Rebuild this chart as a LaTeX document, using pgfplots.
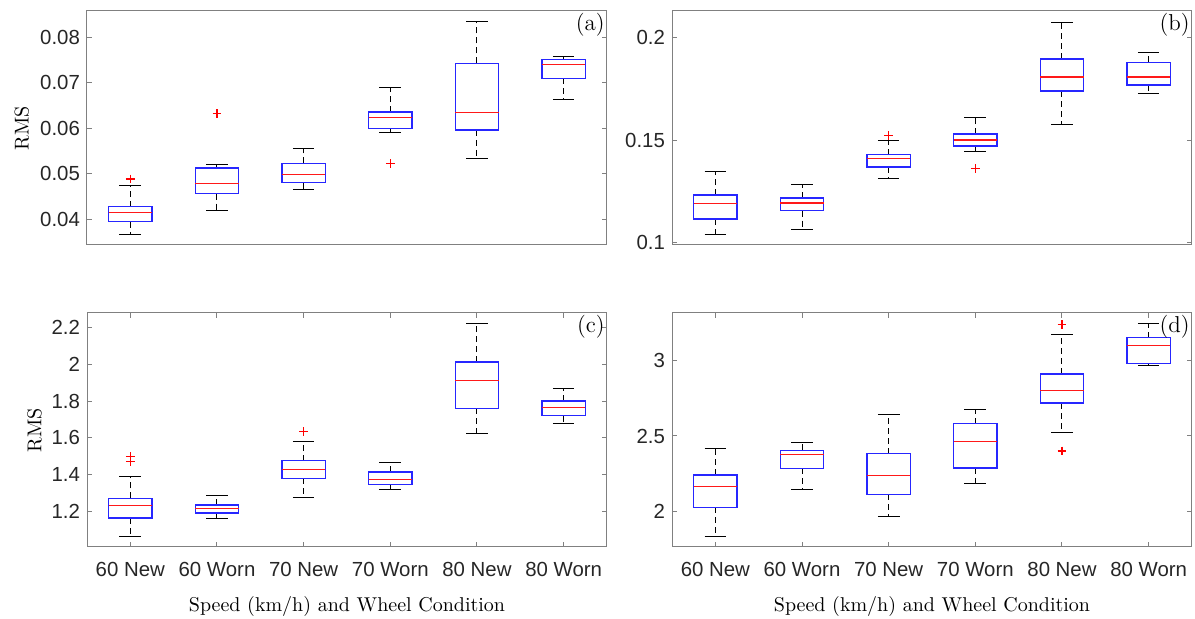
\documentclass[border=0pt]{standalone}
\usepackage{fontspec}
\usepackage{pgfplots}
\pgfplotsset{compat=1.18}
\usepgfplotslibrary{statistics}
\newfontfamily\ticksf{Liberation Sans}

\pgfplotsset{
  boxplot/draw/lower whisker/.code={%
    \draw[color=black, line width=0.5pt, dash pattern=on 3pt off 2pt]
      (boxplot box cs:\pgfplotsboxplotvalue{lower quartile},0.5) --
      (boxplot box cs:\pgfplotsboxplotvalue{lower whisker},0.5);
    \draw[color=black, line width=0.5pt]
      (boxplot whisker cs:\pgfplotsboxplotvalue{lower whisker},0) --
      (boxplot whisker cs:\pgfplotsboxplotvalue{lower whisker},1);
  },
  boxplot/draw/upper whisker/.code={%
    \draw[color=black, line width=0.5pt, dash pattern=on 3pt off 2pt]
      (boxplot box cs:\pgfplotsboxplotvalue{upper quartile},0.5) --
      (boxplot box cs:\pgfplotsboxplotvalue{upper whisker},0.5);
    \draw[color=black, line width=0.5pt]
      (boxplot whisker cs:\pgfplotsboxplotvalue{upper whisker},0) --
      (boxplot whisker cs:\pgfplotsboxplotvalue{upper whisker},1);
  },
  boxplot/draw/median/.code={%
    \draw[color=red!90!white, line width=0.7pt]
      (boxplot box cs:\pgfplotsboxplotvalue{median},0) --
      (boxplot box cs:\pgfplotsboxplotvalue{median},1);
  },
  boxplot/draw/box/.code={%
    \draw[color=blue!85!white, line width=0.7pt]
      (boxplot box cs:\pgfplotsboxplotvalue{lower quartile},0) rectangle
      (boxplot box cs:\pgfplotsboxplotvalue{upper quartile},1);
  },
  mybox/.style={
    color=black,
    boxplot/draw direction=y,
    boxplot/box extend=0.5,
    boxplot/whisker extend=0.25,
  },
  outl/.style={only marks, mark=+, color=red, mark size=2.2pt, line width=0.6pt},
  panel/.style={
    width=260pt, height=117pt, scale only axis,
    anchor=south west,
    xmin=0.5, xmax=6.5,
    scaled y ticks=false,
    axis line style={black!50, line width=0.5pt},
    every tick/.style={black!50, line width=0.5pt},
    tick align=inside,
    major tick length=2.5pt,
    xtick pos=both, ytick pos=both,
    tick label style={font=\ticksf\fontsize{10.2}{12}\selectfont, text=black!85},
    /pgf/number format/assume math mode=true,
    xticklabel style={anchor=base, yshift=-14.8pt},
    label style={font=\fontsize{11.5}{13}\selectfont},
    every axis x label/.style={at={(axis description cs:0.5,0)}, anchor=base, yshift=-32.35pt},
  },
  catx/.style={
    xtick={1,2,3,4,5,6},
    xticklabels={60 New,60 Worn,70 New,70 Worn,80 New,80 Worn},
    xlabel={Speed (km/h) and Wheel Condition},
  },
  nox/.style={xtick=\empty},
}
\newcommand{\plab}[1]{\node[anchor=north east, font=\fontsize{11.5}{13}\selectfont, inner sep=1pt] at (rel axis cs:1,1) {#1};}

\begin{document}
\begin{tikzpicture}
\path[use as bounding box] (0,0) rectangle (597.5pt,309.5pt);

% (a)
\begin{axis}[panel, nox, at={(43.5pt,187pt)},
  ymin=0.0344, ymax=0.0858,
  ytick={0.04,0.05,0.06,0.07,0.08},
  yticklabels={0.04,0.05,0.06,0.07,0.08},
  ylabel={RMS},
  every axis y label/.style={at={(axis description cs:0,0.5)}, xshift=-29.15pt, rotate=90, anchor=base},
]
\addplot[mybox, boxplot prepared={draw position=1, lower whisker=0.0367, lower quartile=0.0395, median=0.0415, upper quartile=0.0428, upper whisker=0.0474}] coordinates {};
\addplot[mybox, boxplot prepared={draw position=2, lower whisker=0.0420, lower quartile=0.0457, median=0.0479, upper quartile=0.0513, upper whisker=0.0520}] coordinates {};
\addplot[mybox, boxplot prepared={draw position=3, lower whisker=0.0465, lower quartile=0.0481, median=0.0499, upper quartile=0.0523, upper whisker=0.0556}] coordinates {};
\addplot[mybox, boxplot prepared={draw position=4, lower whisker=0.0591, lower quartile=0.0600, median=0.0624, upper quartile=0.0636, upper whisker=0.0690}] coordinates {};
\addplot[mybox, boxplot prepared={draw position=5, lower whisker=0.0535, lower quartile=0.0597, median=0.0635, upper quartile=0.0743, upper whisker=0.0834}] coordinates {};
\addplot[mybox, boxplot prepared={draw position=6, lower whisker=0.0663, lower quartile=0.0710, median=0.0740, upper quartile=0.0751, upper whisker=0.0758}] coordinates {};
\addplot[outl] coordinates {(1,0.0489) (2,0.0633) (4,0.0523)};
\plab{(a)}
\end{axis}

% (b)
\begin{axis}[panel, nox, at={(336pt,187pt)},
  ymin=0.099, ymax=0.2131,
  ytick={0.1,0.15,0.2},
  yticklabels={0.1,0.15,0.2},
]
\addplot[mybox, boxplot prepared={draw position=1, lower whisker=0.1043, lower quartile=0.1116, median=0.1191, upper quartile=0.1233, upper whisker=0.1347}] coordinates {};
\addplot[mybox, boxplot prepared={draw position=2, lower whisker=0.1064, lower quartile=0.1158, median=0.1195, upper quartile=0.1220, upper whisker=0.1283}] coordinates {};
\addplot[mybox, boxplot prepared={draw position=3, lower whisker=0.1315, lower quartile=0.1371, median=0.1412, upper quartile=0.1431, upper whisker=0.1498}] coordinates {};
\addplot[mybox, boxplot prepared={draw position=4, lower whisker=0.1445, lower quartile=0.1473, median=0.1502, upper quartile=0.1531, upper whisker=0.1614}] coordinates {};
\addplot[mybox, boxplot prepared={draw position=5, lower whisker=0.1576, lower quartile=0.1740, median=0.1810, upper quartile=0.1897, upper whisker=0.2077}] coordinates {};
\addplot[mybox, boxplot prepared={draw position=6, lower whisker=0.1727, lower quartile=0.1770, median=0.1810, upper quartile=0.1881, upper whisker=0.1929}] coordinates {};
\addplot[outl] coordinates {(3,0.1523) (4,0.1362)};
\plab{(b)}
\end{axis}

% (c)
\begin{axis}[panel, catx, at={(43.5pt,36pt)},
  ymin=1.004, ymax=2.28,
  ytick={1.2,1.4,1.6,1.8,2,2.2},
  yticklabels={1.2,1.4,1.6,1.8,2,2.2},
  ylabel={RMS},
  every axis y label/.style={at={(axis description cs:0,0.5)}, xshift=-22.85pt, rotate=90, anchor=base},
]
\addplot[mybox, boxplot prepared={draw position=1, lower whisker=1.062, lower quartile=1.162, median=1.229, upper quartile=1.269, upper whisker=1.387}] coordinates {};
\addplot[mybox, boxplot prepared={draw position=2, lower whisker=1.162, lower quartile=1.189, median=1.213, upper quartile=1.234, upper whisker=1.287}] coordinates {};
\addplot[mybox, boxplot prepared={draw position=3, lower whisker=1.272, lower quartile=1.379, median=1.426, upper quartile=1.474, upper whisker=1.577}] coordinates {};
\addplot[mybox, boxplot prepared={draw position=4, lower whisker=1.316, lower quartile=1.345, median=1.372, upper quartile=1.414, upper whisker=1.464}] coordinates {};
\addplot[mybox, boxplot prepared={draw position=5, lower whisker=1.622, lower quartile=1.760, median=1.912, upper quartile=2.012, upper whisker=2.225}] coordinates {};
\addplot[mybox, boxplot prepared={draw position=6, lower whisker=1.676, lower quartile=1.720, median=1.765, upper quartile=1.801, upper whisker=1.870}] coordinates {};
\addplot[outl] coordinates {(1,1.497) (1,1.472) (3,1.633)};
\plab{(c)}
\end{axis}

% (d)
\begin{axis}[panel, catx, at={(336pt,36pt)},
  ymin=1.761, ymax=3.319,
  ytick={2,2.5,3},
  yticklabels={2,2.5,3},
]
\addplot[mybox, boxplot prepared={draw position=1, lower whisker=1.832, lower quartile=2.025, median=2.164, upper quartile=2.241, upper whisker=2.418}] coordinates {};
\addplot[mybox, boxplot prepared={draw position=2, lower whisker=2.144, lower quartile=2.285, median=2.378, upper quartile=2.405, upper whisker=2.456}] coordinates {};
\addplot[mybox, boxplot prepared={draw position=3, lower whisker=1.962, lower quartile=2.111, median=2.237, upper quartile=2.383, upper whisker=2.646}] coordinates {};
\addplot[mybox, boxplot prepared={draw position=4, lower whisker=2.184, lower quartile=2.288, median=2.465, upper quartile=2.582, upper whisker=2.675}] coordinates {};
\addplot[mybox, boxplot prepared={draw position=5, lower whisker=2.520, lower quartile=2.719, median=2.801, upper quartile=2.914, upper whisker=3.179}] coordinates {};
\addplot[mybox, boxplot prepared={draw position=6, lower whisker=2.967, lower quartile=2.982, median=3.104, upper quartile=3.155, upper whisker=3.252}] coordinates {};
\addplot[outl] coordinates {(5,3.243) (5,2.400)};
\plab{(d)}
\end{axis}
\end{tikzpicture}
\end{document}
